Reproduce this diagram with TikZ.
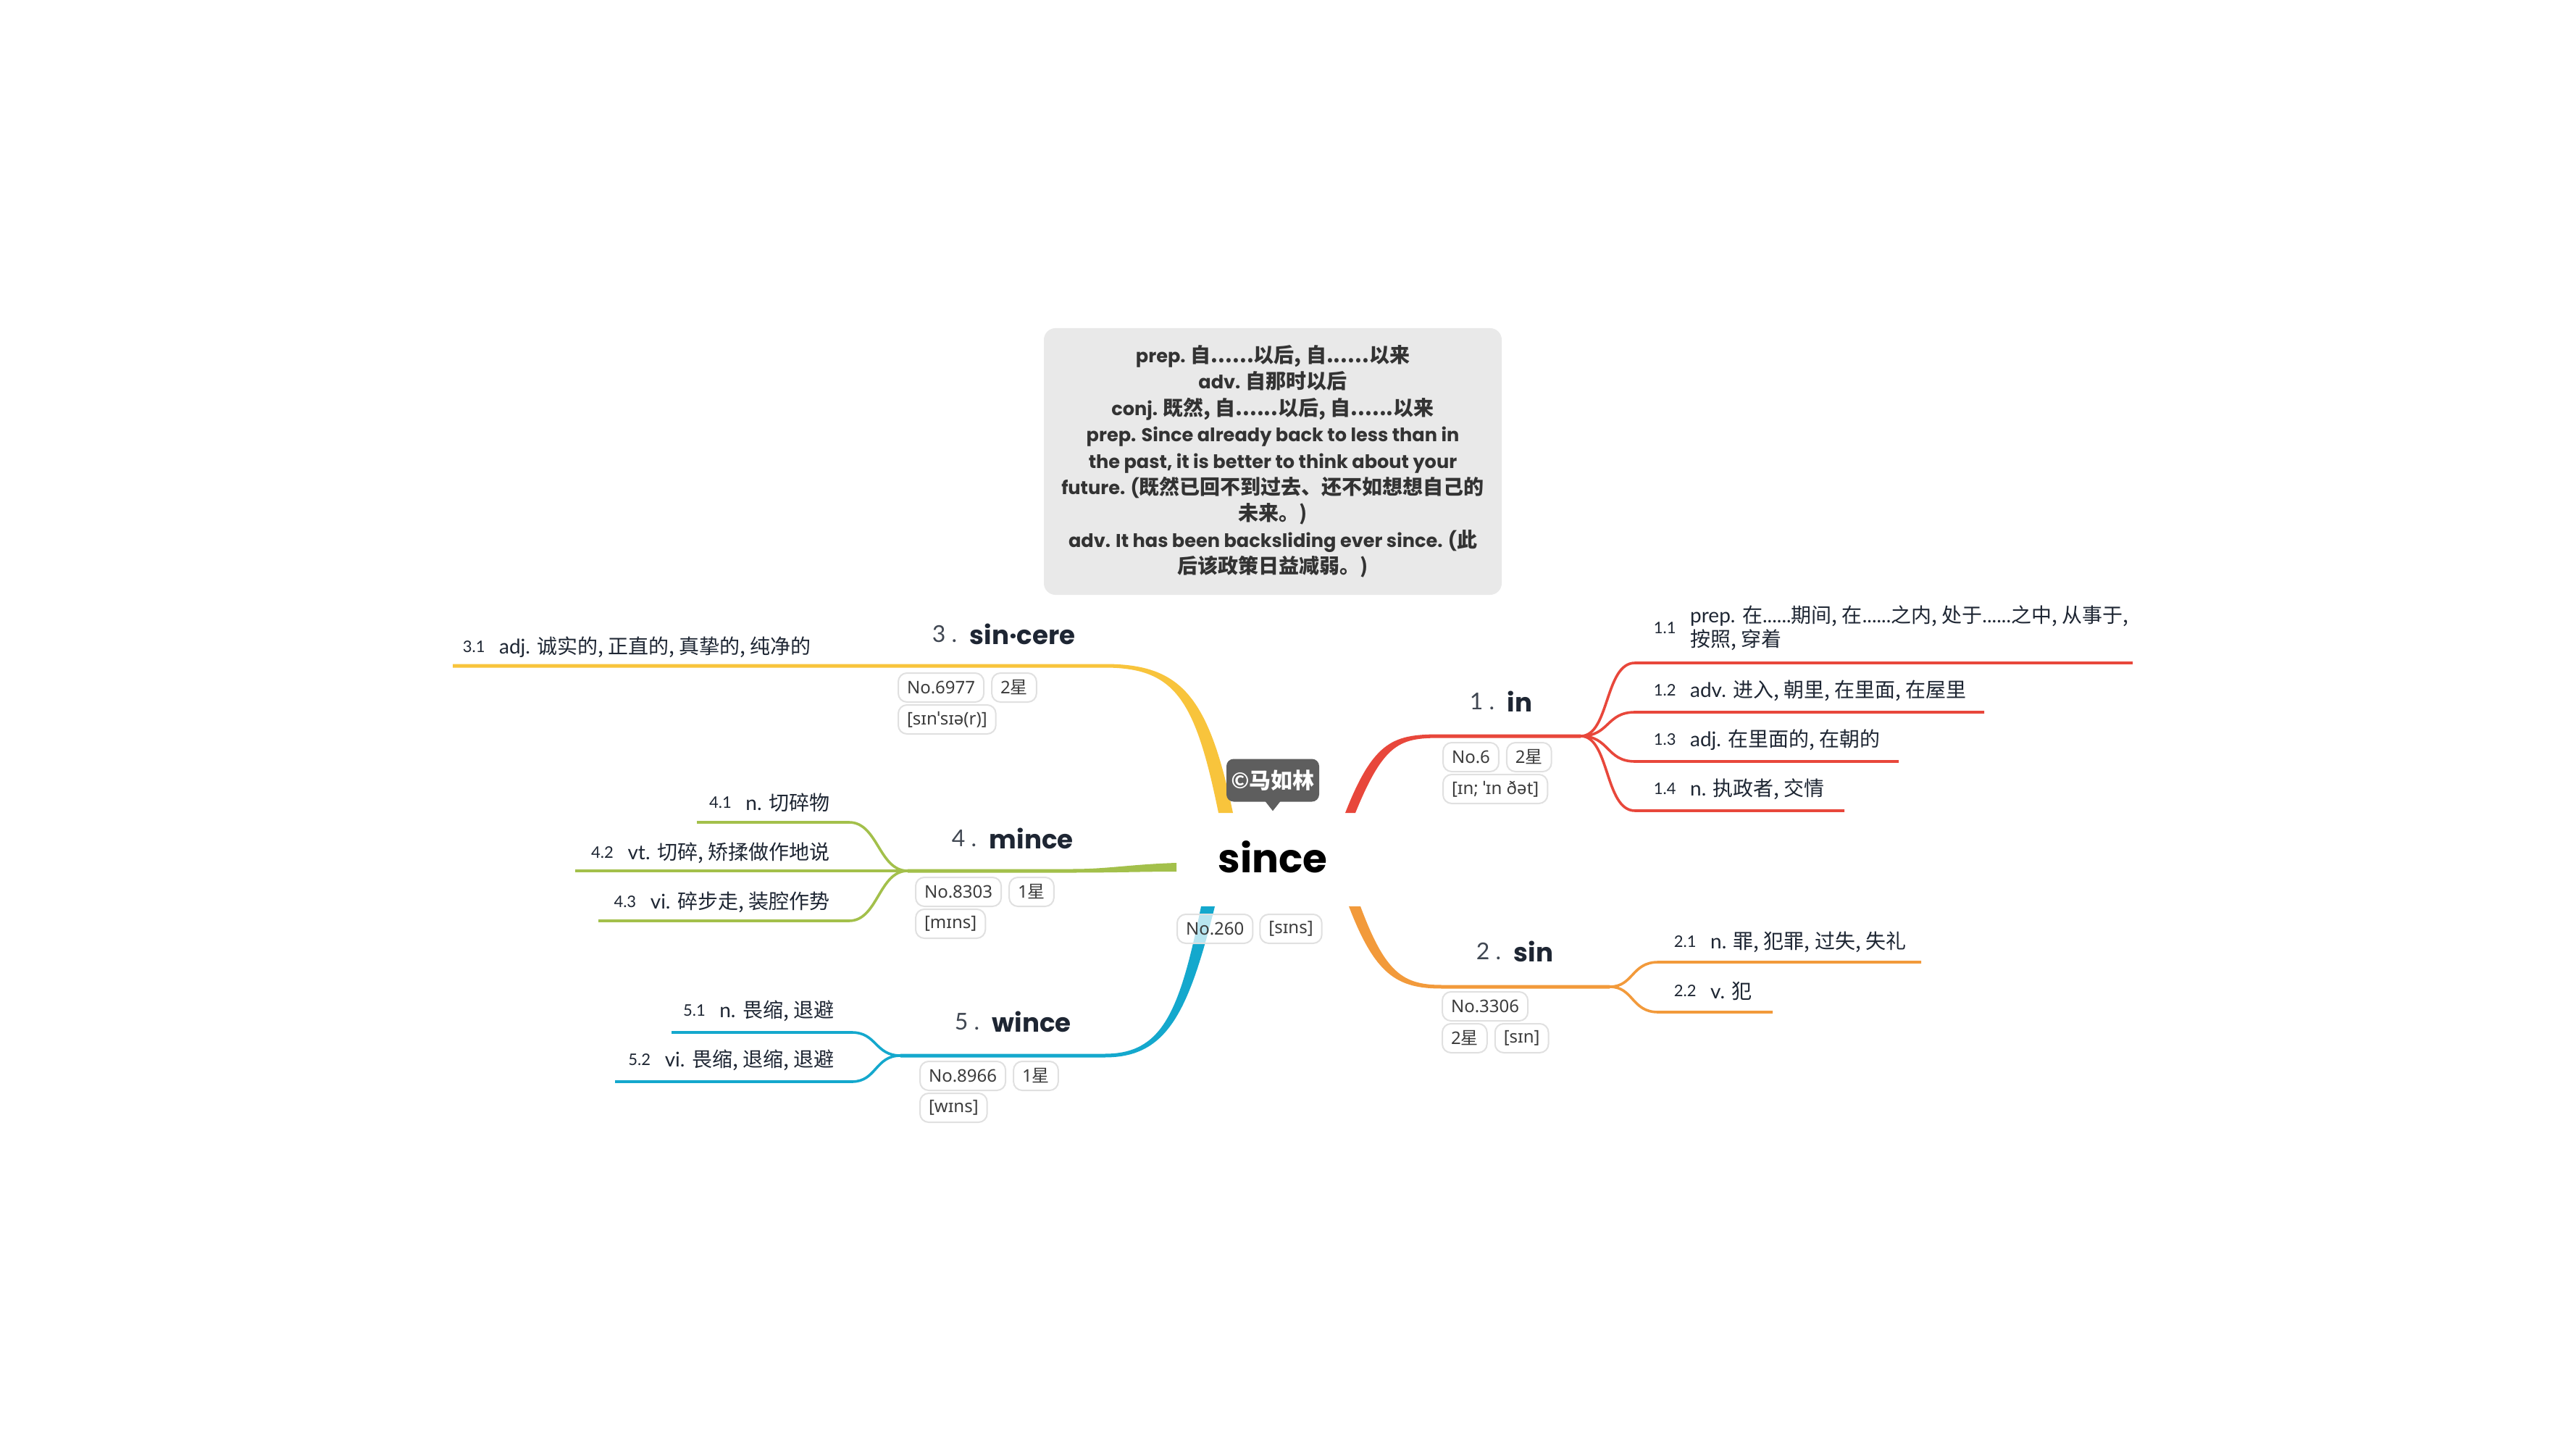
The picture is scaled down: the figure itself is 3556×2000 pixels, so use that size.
\documentclass[tikz,border=0pt]{standalone}
\usepackage{fontspec}
\setmainfont{Lato}
\newfontfamily\cjk{Noto Sans CJK SC}
\newfontfamily\pop{Poppins}
\newfontfamily\ipa{Noto Sans}
\newcommand\bc[1]{{\cjk\fontsize{7}{9.1}\selectfont #1}}
\usetikzlibrary{calc}
\definecolor{cred}{HTML}{E8473B}
\definecolor{corange}{HTML}{F29A3B}
\definecolor{cyellow}{HTML}{F8C43C}
\definecolor{cgreen}{HTML}{A3C04B}
\definecolor{cblue}{HTML}{14A8CD}
\definecolor{ink}{HTML}{1E2633}
\definecolor{tagtxt}{HTML}{3C3C3C}
\definecolor{tagbd}{HTML}{E0E0E0}
\definecolor{boxbg}{HTML}{E9E9E9}
\definecolor{boxtxt}{HTML}{333333}
\definecolor{callbg}{HTML}{5E5E5E}
\begin{document}
\begin{tikzpicture}[x=0.25pt,y=-0.25pt,
  subline/.style={line width=0.9pt},
  subtxt/.style={inner sep=0pt, font=\fontsize{7}{8.25}\selectfont, text=ink},
  subnum/.style={inner sep=0pt, font=\fontsize{5.5}{6}\selectfont, text=ink},
  tagbox/.style={draw=tagbd, line width=0.5pt, fill=white, fill opacity=0.7, text opacity=1,
     rounded corners=3pt, minimum height=10pt, inner xsep=3pt, inner ysep=0pt,
     font=\ipa\fontsize{6}{7}\selectfont, text=tagtxt, anchor=west},
  wordlbl/.style={inner sep=0pt, anchor=west, font=\pop\bfseries\fontsize{8.9}{10}\selectfont, text=ink},
  wordnum/.style={inner sep=0pt, anchor=east, font=\fontsize{8}{9}\selectfont, text=ink!85},
]
\useasboundingbox (0,0) rectangle (3556,2000);
\fill[white] (0,0) rectangle (3556,2000);

% ---------- main branches (tapered) ----------
\fill[cred] (1857,1122) .. controls (1897,1020) and (1925,1013.5) .. (1990,1013.5) -- (2182,1013.5)
  -- (2182,1018.5) -- (1990,1018.5) .. controls (1933,1018.5) and (1911,1024) .. (1871,1122) -- cycle;
\fill[corange] (1862,1251) .. controls (1898,1345) and (1928,1364.5) .. (1990,1364.5) -- (2222,1364.5)
  -- (2222,1359.5) -- (1990,1359.5) .. controls (1936,1359.5) and (1912,1342) .. (1878,1251) -- cycle;
\fill[cyellow] (1702,1122) .. controls (1668,960) and (1630,916.5) .. (1525,916.5) -- (625,916.5)
  -- (625,921.5) -- (1525,921.5) .. controls (1622,921.5) and (1650,965) .. (1682,1122) -- cycle;
\fill[cgreen] (1624,1191) .. controls (1560,1193) and (1530,1199.5) .. (1480,1199.5) -- (1253,1199.5)
  -- (1253,1204.5) -- (1480,1204.5) .. controls (1540,1204.5) and (1580,1203) .. (1624,1203) -- cycle;
\fill[cblue] (1677,1251) .. controls (1640,1400) and (1610,1459.5) .. (1525,1459.5) -- (1243,1459.5)
  -- (1243,1454.5) -- (1525,1454.5) .. controls (1603,1454.5) and (1628,1400) .. (1658,1251) -- cycle;

% ---------- split points ----------
\coordinate (rs) at (2182,1016);
\coordinate (os) at (2222,1362);
\coordinate (gs) at (1253,1202);
\coordinate (bs) at (1243,1457);

% ---------- sub branches ----------
\draw[subline,cred] (rs) .. controls (2222,1016) and (2215,915) .. (2257,915) -- (2944,915);
\draw[subline,cred] (rs) .. controls (2222,1016) and (2217,983) .. (2257,983) -- (2739,983);
\draw[subline,cred] (rs) .. controls (2222,1016) and (2217,1051) .. (2257,1051) -- (2621,1051);
\draw[subline,cred] (rs) .. controls (2222,1016) and (2215,1119) .. (2257,1119) -- (2546,1119);

\draw[subline,corange] (os) .. controls (2255,1362) and (2252,1328) .. (2289,1328) -- (2652,1328);
\draw[subline,corange] (os) .. controls (2255,1362) and (2252,1397) .. (2289,1397) -- (2447,1397);

\draw[subline,cgreen] (gs) .. controls (1213,1202) and (1212,1135) .. (1172,1135) -- (962,1135);
\draw[subline,cgreen] (gs) -- (794,1202);
\draw[subline,cgreen] (gs) .. controls (1213,1202) and (1212,1271) .. (1172,1271) -- (826,1271);

\draw[subline,cblue] (bs) .. controls (1208,1457) and (1210,1425) .. (1176,1425) -- (927,1425);
\draw[subline,cblue] (bs) .. controls (1208,1457) and (1210,1493) .. (1176,1493) -- (849,1493);

% ---------- definitions box ----------
\node[fill=boxbg, rounded corners=4pt, minimum width=158pt, minimum height=92pt, align=center,
      text=boxtxt, font=\pop\bfseries\fontsize{6.4}{9.1}\selectfont, inner sep=0pt] (defs) at (1757,637)
 {prep. \bc{自......以后, 自......以来}\\
  adv. \bc{自那时以后}\\
  conj. \bc{既然, 自......以后, 自......以来}\\
  prep. Since already back to less than in\\
  the past, it is better to think about your\\
  future. (\bc{既然已回不到过去、还不如想想自己的}\\
  \bc{未来。)}\\
  adv. It has been backsliding ever since. (\bc{此}\\
  \bc{后该政策日益减弱。)}};

% ---------- root ----------
\node[font=\pop\bfseries\fontsize{13.7}{15}\selectfont, inner sep=0pt, anchor=base] (root) at (1757,1204) {since};
\node[fill=callbg, rounded corners=2.5pt, minimum width=32pt, minimum height=14.75pt, inner sep=0pt,
      text=white, font=\bfseries\fontsize{7.5}{8}\selectfont] (mark) at (1757,1077) {©{\cjk 马如林}};
\fill[callbg] ([xshift=-2.6pt,yshift=0.3pt]mark.south) -- ([xshift=2.6pt,yshift=0.3pt]mark.south) -- ([yshift=-3pt]mark.south) -- cycle;
\node[tagbox] (t0a) at (1624,1282) {No.260};
\node[tagbox] (t0b) at ([xshift=2pt]t0a.east) {[sɪns]};

% ---------- 1. in ----------
\node[wordlbl] (w1) at (2080,968) {in};
\node[wordnum] (k1) at ([xshift=-4pt]w1.west) {1 .};
\node[tagbox] (t1a) at (1991,1045) {No.6};
\node[tagbox] (t1b) at ([xshift=2.25pt]t1a.east) {2{\cjk 星}};
\node[tagbox] (t1c) at (1991,1089) {[ɪn; ˈɪn ðət]};
\node[subnum, anchor=west] (n11) at (2282,867) {1.1};
\node[subtxt, anchor=west, align=left] (s11) at ([xshift=4.5pt]n11.east) {prep. {\cjk 在}......{\cjk 期间, 在}......{\cjk 之内, 处于}......{\cjk 之中, 从事于,}\\{\cjk 按照, 穿着}};
\node[subnum, anchor=west] (n12) at (2282,953) {1.2};
\node[subtxt, anchor=west] (s12) at ([xshift=4.5pt]n12.east) {adv. {\cjk 进入, 朝里, 在里面, 在屋里}};
\node[subnum, anchor=west] (n13) at (2282,1021) {1.3};
\node[subtxt, anchor=west] (s13) at ([xshift=4.5pt]n13.east) {adj. {\cjk 在里面的, 在朝的}};
\node[subnum, anchor=west] (n14) at (2282,1089) {1.4};
\node[subtxt, anchor=west] (s14) at ([xshift=4.5pt]n14.east) {n. {\cjk 执政者, 交情}};

% ---------- 2. sin ----------
\node[wordlbl] (w2) at (2089,1313) {sin};
\node[wordnum] (k2) at ([xshift=-4pt]w2.west) {2 .};
\node[tagbox] (t2a) at (1990,1389) {No.3306};
\node[tagbox] (t2b) at (1990,1433) {2{\cjk 星}};
\node[tagbox] (t2c) at ([xshift=2.25pt]t2b.east) {[sɪn]};
\node[subnum, anchor=west] (n21) at (2310,1300) {2.1};
\node[subtxt, anchor=west] (s21) at ([xshift=4.5pt]n21.east) {n. {\cjk 罪, 犯罪, 过失, 失礼}};
\node[subnum, anchor=west] (n22) at (2310,1368) {2.2};
\node[subtxt, anchor=west] (s22) at ([xshift=4.5pt]n22.east) {v. {\cjk 犯}};

% ---------- 3. sincere ----------
\node[wordlbl] (w3) at (1338,875) {sin·cere};
\node[wordnum] (k3) at ([xshift=-4pt]w3.west) {3 .};
\node[tagbox] (t3a) at (1239,949) {No.6977};
\node[tagbox] (t3b) at ([xshift=2.25pt]t3a.east) {2{\cjk 星}};
\node[tagbox] (t3c) at (1239,993) {[sɪnˈsɪə(r)]};
\node[subnum, anchor=west] (n31) at (638,893) {3.1};
\node[subtxt, anchor=west] (s31) at ([xshift=4.5pt]n31.east) {adj. {\cjk 诚实的, 正直的, 真挚的, 纯净的}};

% ---------- 4. mince ----------
\node[wordlbl] (w4) at (1365,1157) {mince};
\node[wordnum] (k4) at ([xshift=-4pt]w4.west) {4 .};
\node[tagbox] (t4a) at (1263,1231) {No.8303};
\node[tagbox] (t4b) at ([xshift=2.25pt]t4a.east) {1{\cjk 星}};
\node[tagbox] (t4c) at (1263,1275) {[mɪns]};
\node[subtxt, anchor=east] (s41) at (1146,1108) {n. {\cjk 切碎物}};
\node[subnum, anchor=east] (n41) at ([xshift=-4.5pt]s41.west) {4.1};
\node[subtxt, anchor=east] (s42) at (1146,1177) {vt. {\cjk 切碎, 矫揉做作地说}};
\node[subnum, anchor=east] (n42) at ([xshift=-4.5pt]s42.west) {4.2};
\node[subtxt, anchor=east] (s43) at (1146,1245) {vi. {\cjk 碎步走, 装腔作势}};
\node[subnum, anchor=east] (n43) at ([xshift=-4.5pt]s43.west) {4.3};

% ---------- 5. wince ----------
\node[wordlbl] (w5) at (1369,1410) {wince};
\node[wordnum] (k5) at ([xshift=-4pt]w5.west) {5 .};
\node[tagbox] (t5a) at (1269,1485) {No.8966};
\node[tagbox] (t5b) at ([xshift=2.25pt]t5a.east) {1{\cjk 星}};
\node[tagbox] (t5c) at (1269,1529) {[wɪns]};
\node[subtxt, anchor=east] (s51) at (1152,1395) {n. {\cjk 畏缩, 退避}};
\node[subnum, anchor=east] (n51) at ([xshift=-4.5pt]s51.west) {5.1};
\node[subtxt, anchor=east] (s52) at (1152,1463) {vi. {\cjk 畏缩, 退缩, 退避}};
\node[subnum, anchor=east] (n52) at ([xshift=-4.5pt]s52.west) {5.2};
\end{tikzpicture}
\end{document}
